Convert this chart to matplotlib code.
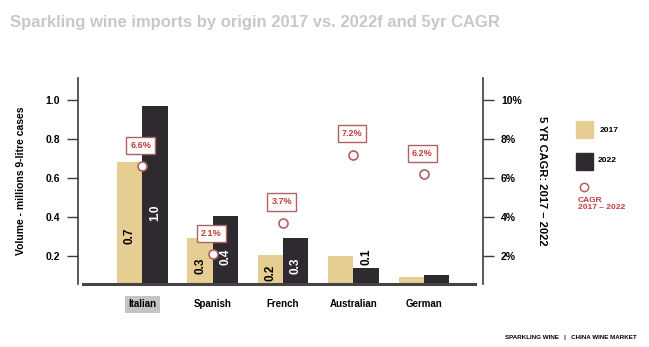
import numpy as np
import matplotlib.pyplot as plt

plt.rcParams['font.family'] = ['Liberation Sans', 'DejaVu Sans']

origins = ['Italian', 'Spanish', 'French', 'Australian', 'German']
vol_2017 = [0.68, 0.29, 0.205, 0.20, 0.09]
vol_2022 = [0.97, 0.405, 0.29, 0.14, 0.10]
labels_2017 = ['0.7', '0.3', '0.2', None, None]
labels_2022 = ['1.0', '0.4', '0.3', '0.1', None]
cagr = [6.6, 2.1, 3.7, 7.2, 6.2]
cagr_labels = ['6.6%', '2.1%', '3.7%', '7.2%', '6.2%']

c17 = '#e6cd92'
c22 = '#2f2a2f'
red = '#c43c3c'
edge = '#b06262'
axcol = '#3c3c3c'

fig = plt.figure(figsize=(6.49, 3.47), dpi=100)
ax = fig.add_axes([0.1202, 0.1816, 0.624, 0.5936])
ybot, ytop = 0.056, 1.113
ax.set_ylim(ybot, ytop)
ax.set_xlim(-0.914, 4.84)

x = np.arange(len(origins))
w = 0.36
ax.bar(x - w / 2, vol_2017, w, color=c17, zorder=2)
ax.bar(x + w / 2, vol_2022, w, color=c22, zorder=2)

# value labels
for i in range(len(origins)):
    if labels_2017[i]:
        ax.text(x[i] - w / 2, ybot + (vol_2017[i] - ybot) * 0.4, labels_2017[i],
                rotation=90, ha='center', va='center', fontsize=8.5,
                fontweight='bold', color='black', zorder=3)
    if labels_2022[i]:
        if vol_2022[i] < 0.2:
            ax.text(x[i] + w / 2, vol_2022[i] + 0.012, labels_2022[i],
                    rotation=90, ha='center', va='bottom', fontsize=8.5,
                    fontweight='bold', color='black', zorder=3)
        else:
            ax.text(x[i] + w / 2, ybot + (vol_2022[i] - ybot) * 0.4, labels_2022[i],
                    rotation=90, ha='center', va='center', fontsize=8.5,
                    fontweight='bold', color='white', zorder=3)

# baseline
ax.axhline(ybot, xmin=0.012, xmax=0.98, color='#444444', lw=2.2, zorder=4,
           clip_on=False)

for s in ['top', 'bottom']:
    ax.spines[s].set_visible(False)
ax.spines['left'].set_color(axcol)
ax.spines['left'].set_linewidth(1.2)
ax.spines['right'].set_visible(False)

ax.set_yticks([0.2, 0.4, 0.6, 0.8, 1.0])
ax.set_yticklabels(['0.2', '0.4', '0.6', '0.8', '1.0'])
ax.tick_params(axis='y', length=8, width=1, color=axcol, pad=5,
               labelsize=7.5)
for t in ax.get_yticklabels():
    t.set_fontweight('bold')

ax.set_xticks(x)
ax.set_xticklabels(origins)
ax.tick_params(axis='x', length=0, pad=11, labelsize=7)
for t in ax.get_xticklabels():
    t.set_fontweight('bold')
ax.get_xticklabels()[0].set_bbox(dict(facecolor='#c4c4c4', edgecolor='none',
                                      boxstyle='square,pad=0.35'))

ax.set_ylabel('Volume - millions 9-litre cases', fontsize=7.5,
              fontweight='bold', labelpad=14)

# right axis for CAGR
ax2 = ax.twinx()
ax2.set_ylim(ybot * 10, ytop * 10)
for s in ['top', 'bottom', 'left']:
    ax2.spines[s].set_visible(False)
ax2.spines['right'].set_color(axcol)
ax2.spines['right'].set_linewidth(1.2)
ax2.set_yticks([2, 4, 6, 8, 10])
ax2.set_yticklabels(['2%', '4%', '6%', '8%', '10%'])
ax2.tick_params(axis='y', length=8, width=1, color=axcol, pad=5,
                labelsize=7.5)
for t in ax2.get_yticklabels():
    t.set_fontweight('bold')
ax2.set_ylabel('5 YR CAGR: 2017 – 2022', fontsize=8, fontweight='bold',
               rotation=-90, labelpad=18)

ax2.plot(x, cagr, 'o', ms=6.5, mfc='white', mec=edge, mew=1.2, ls='none',
         zorder=5)
for xi, ci, lab in zip(x, cagr, cagr_labels):
    ax2.annotate(lab, (xi, ci), xytext=(-1, 15), textcoords='offset points',
                 ha='center', va='center', fontsize=6.5, fontweight='bold',
                 color=red,
                 bbox=dict(facecolor='white', edgecolor=edge, lw=1,
                           boxstyle='square,pad=0.45'))

# legend
fig.patches.append(plt.Rectangle((576 / 649, 1 - 138 / 347), 17 / 649, 17 / 347,
                                 transform=fig.transFigure, color=c17))
fig.patches.append(plt.Rectangle((576 / 649, 1 - 170 / 347), 17 / 649, 17 / 347,
                                 transform=fig.transFigure, color=c22))
fig.text(600 / 649, 1 - 130 / 347, '2017', fontsize=6, fontweight='bold',
         va='center')
fig.text(598 / 649, 1 - 161 / 347, '2022', fontsize=6, fontweight='bold',
         va='center')
fig.lines.append(plt.Line2D([584 / 649], [1 - 187 / 347], marker='o', ms=6,
                            mfc='white', mec=edge, mew=1.1,
                            transform=fig.transFigure))
fig.text(578 / 649, 1 - 204 / 347, 'CAGR\n2017 – 2022', fontsize=6,
         fontweight='bold', color=red, va='center', linespacing=1.1)

fig.text(10 / 649, 1 - 23 / 347,
         'Sparkling wine imports by origin 2017 vs. 2022f and 5yr CAGR',
         fontsize=12, fontweight='bold', color='#c8c8c8', va='center')
fig.text(637 / 649, 1 - 338 / 347, 'SPARKLING WINE   |   CHINA WINE MARKET',
         fontsize=4.5, fontweight='bold', ha='right', va='center')

fig.savefig('out.png', dpi=100)
